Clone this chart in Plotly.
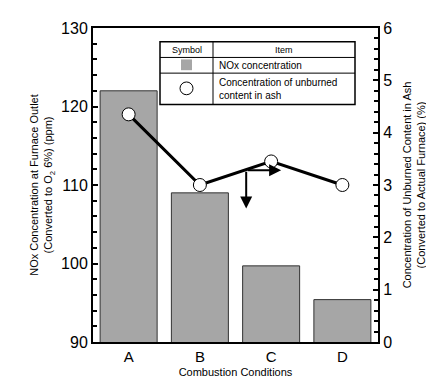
import plotly.graph_objects as go

categories = ["A", "B", "C", "D"]
nox_ppm = [122, 109, 99.7, 95.4]
unburned_pct = [4.35, 3.0, 3.45, 3.0]

FONT = "Liberation Sans, Arial, Helvetica, sans-serif"

L, R, T, B = 85, 64, 20, 41
W, H = 434, 381
PW, PH = W - L - R, H - T - B

def px(x):
    return (x - L) / PW

def py(y):
    return (H - B - y) / PH

fig = go.Figure()
fig.add_trace(go.Bar(
    x=categories, y=nox_ppm, width=0.8,
    marker=dict(color="#a6a6a6", line=dict(color="#333333", width=1)),
    showlegend=False,
))
fig.add_trace(go.Scatter(
    x=categories, y=unburned_pct, yaxis="y2", mode="lines+markers",
    line=dict(color="black", width=3),
    marker=dict(symbol="circle", size=13, color="white", line=dict(color="black", width=1)),
    showlegend=False,
))

# arrows (data coords on the secondary axis)
arrow_origin = (1.65, 3.28)
fig.add_annotation(x=1.65, y=2.55, ax=arrow_origin[0], ay=arrow_origin[1],
                   xref="x", yref="y2", axref="x", ayref="y2",
                   showarrow=True, arrowhead=2, arrowsize=1.2, arrowwidth=2, arrowcolor="black", text="")
fig.add_annotation(x=2.14, y=3.28, ax=arrow_origin[0], ay=arrow_origin[1],
                   xref="x", yref="y2", axref="x", ayref="y2",
                   showarrow=True, arrowhead=2, arrowsize=1.2, arrowwidth=2, arrowcolor="black", text="")

# legend table
x0, x1, x2 = px(152), px(205), px(347)
y0, y1, y2, y3 = py(34), py(50), py(66), py(98)
shapes = [
    dict(type="rect", xref="paper", yref="paper", x0=x0, x1=x2, y0=y3, y1=y0,
         line=dict(color="black", width=1.5), fillcolor="white", layer="above"),
    dict(type="line", xref="paper", yref="paper", x0=x1, x1=x1, y0=y3, y1=y0,
         line=dict(color="black", width=1), layer="above"),
    dict(type="line", xref="paper", yref="paper", x0=x0, x1=x2, y0=y1, y1=y1,
         line=dict(color="black", width=1), layer="above"),
    dict(type="line", xref="paper", yref="paper", x0=x0, x1=x2, y0=y2, y1=y2,
         line=dict(color="black", width=1), layer="above"),
    dict(type="rect", xref="paper", yref="paper", x0=px(173), x1=px(184), y0=py(63), y1=py(52),
         line=dict(width=0), fillcolor="#a6a6a6", layer="above"),
    dict(type="circle", xref="paper", yref="paper", x0=px(172), x1=px(185), y0=py(88), y1=py(75),
         line=dict(color="black", width=1), fillcolor="white", layer="above"),
]
fig.update_layout(shapes=shapes)

def txt(x, y, s, size=10, xanchor="center"):
    fig.add_annotation(x=x, y=y, xref="paper", yref="paper", text=s, showarrow=False,
                       xanchor=xanchor, yanchor="middle", align="left",
                       font=dict(family=FONT, size=size, color="black"))

txt(px(178.5), py(42), "Symbol", 9)
txt(px(276), py(42), "Item", 9)
txt(px(209), py(58), "NOx concentration", 10, "left")
txt(px(209), py(82), "Concentration of unburned<br>content in ash", 10, "left")

fig.update_layout(
    width=W, height=H,
    margin=dict(l=L, r=R, t=T, b=B),
    plot_bgcolor="white", paper_bgcolor="white",
    bargap=0.2,
    font=dict(family=FONT, color="black"),
    xaxis=dict(
        showline=True, linewidth=2, linecolor="black", mirror=True,
        ticks="", tickfont=dict(size=15),
        title=dict(text="Combustion Conditions", font=dict(size=11), standoff=4),
        range=[-0.5, 3.5],
    ),
    yaxis=dict(
        range=[90, 130], dtick=10, tickfont=dict(size=16),
        showline=True, linewidth=2, linecolor="black",
        ticks="inside", ticklen=5, tickwidth=2, tickcolor="black",
        minor=dict(dtick=2, ticks="inside", ticklen=4, tickwidth=2, tickcolor="black"),
        showgrid=False, zeroline=False,
        title=dict(text="NOx Concentration at Furnace Outlet<br>(Converted to O<sub>2</sub> 6%) (ppm)",
                   font=dict(size=11), standoff=6),
    ),
    yaxis2=dict(
        range=[0, 6], dtick=1, overlaying="y", side="right", tickfont=dict(size=16),
        showline=True, linewidth=2, linecolor="black",
        ticks="inside", ticklen=5, tickwidth=2, tickcolor="black",
        minor=dict(dtick=0.2, ticks="inside", ticklen=4, tickwidth=2, tickcolor="black"),
        showgrid=False, zeroline=False,
        title=dict(text="Concentration of Unburned Content in Ash<br>(Converted to Actual Furnace) (%)",
                   font=dict(size=11), standoff=12),
    ),
)

fig.write_html("out.html")
